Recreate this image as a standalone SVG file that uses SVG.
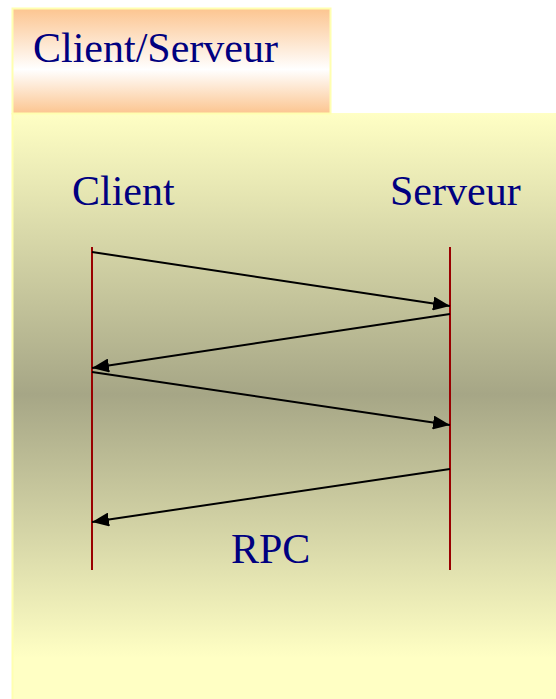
<svg xmlns="http://www.w3.org/2000/svg" width="556" height="699" viewBox="0 0 556 699">
<defs>
<linearGradient id="gTitle" x1="0" y1="0" x2="0" y2="1">
<stop offset="0" stop-color="#fcc590"/>
<stop offset="0.58" stop-color="#ffffff"/>
<stop offset="1" stop-color="#fcc590"/>
</linearGradient>
<linearGradient id="gPanel" x1="0" y1="0" x2="0" y2="1">
<stop offset="0" stop-color="#ffffc4"/>
<stop offset="0.48" stop-color="#a6a686"/>
<stop offset="0.93" stop-color="#ffffc4"/>
<stop offset="1" stop-color="#ffffc4"/>
</linearGradient>
<marker id="ah" markerWidth="17" markerHeight="14" refX="17" refY="7" orient="auto" markerUnits="userSpaceOnUse">
<path d="M0,0 L17,7 L0,14 Z" fill="#000"/>
</marker>
<style>
.t{font-family:"Liberation Serif","Times New Roman",serif;font-size:42px;fill:#000080}
.life{stroke:#990000;stroke-width:2}
.msg{stroke:#000;stroke-width:2;fill:none;marker-end:url(#ah)}
</style>
</defs>
<rect x="0" y="0" width="556" height="699" fill="#ffffff"/>
<g id="panel">
<rect x="12" y="113" width="544" height="586" fill="url(#gPanel)"/>
<line x1="12.5" y1="113" x2="12.5" y2="699" stroke="#ffffb0" stroke-width="2"/>
</g>
<g id="title">
<rect x="12.5" y="8.5" width="318" height="105" fill="url(#gTitle)" stroke="#ffffb0" stroke-width="2"/>
<text class="t" x="33" y="62">Client/Serveur</text>
</g>
<g id="client">
<text class="t" x="72" y="205">Client</text>
<line class="life" x1="92" y1="247" x2="92" y2="570"/>
</g>
<g id="server">
<text class="t" x="390" y="205">Serveur</text>
<line class="life" x1="450" y1="247" x2="450" y2="570"/>
</g>
<g id="connectors">
<line class="msg" x1="92" y1="252" x2="450" y2="306"/>
<line class="msg" x1="450" y1="314" x2="92" y2="368"/>
<line class="msg" x1="92" y1="372" x2="450" y2="425"/>
<line class="msg" x1="450" y1="469" x2="92" y2="522"/>
</g>
<text class="t" x="231" y="563">RPC</text>
</svg>
